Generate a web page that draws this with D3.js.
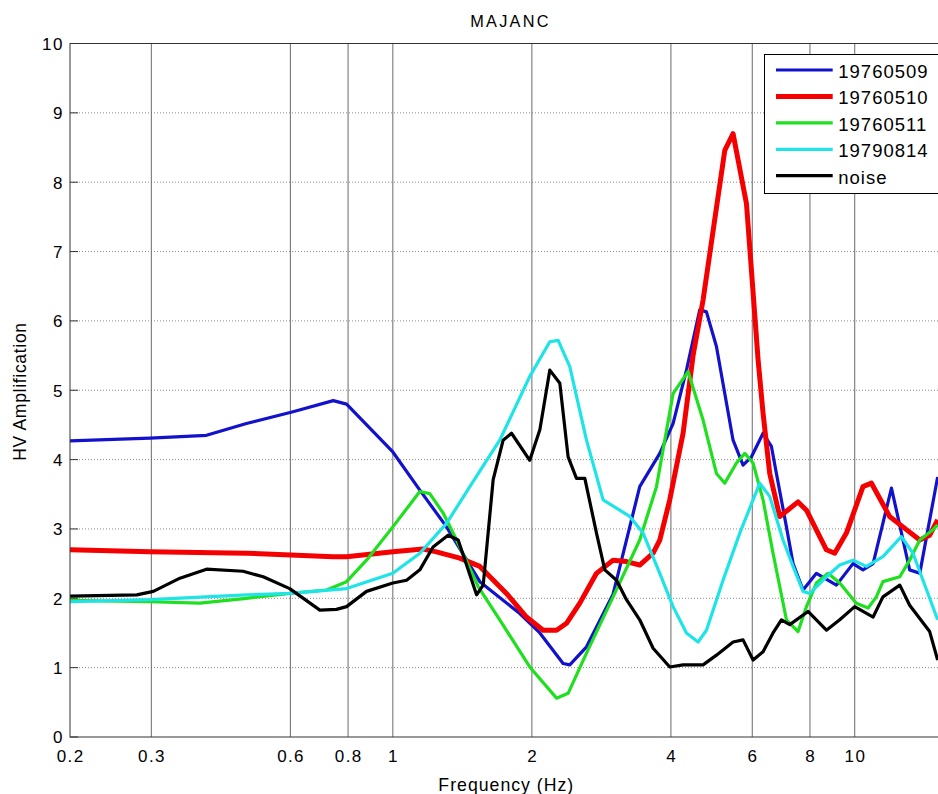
<!DOCTYPE html>
<html>
<head>
<meta charset="utf-8">
<script src="https://cdn.jsdelivr.net/npm/d3@7"></script>
<style>
  html, body { margin: 0; padding: 0; background: #fff; }
  svg { display: block; font-family: "Liberation Sans", Arial, Helvetica, sans-serif; }
</style>
</head>
<body>
<svg id="chart" width="938" height="794"></svg>
<script>
// ---- labels and ticks ----
const chartTitle = "MAJANC";
const xLabel = "Frequency (Hz)";
const yLabel = "HV Amplification";
const xTicks = [0.2, 0.3, 0.6, 0.8, 1, 2, 4, 6, 8, 10];
const xTickLabels = ["0.2", "0.3", "0.6", "0.8", "1", "2", "4", "6", "8", "10"];
const yTicks = [0, 1, 2, 3, 4, 5, 6, 7, 8, 9, 10];
const yTickLabels = ["0", "1", "2", "3", "4", "5", "6", "7", "8", "9", "10"];
const seriesNames = ["19760509", "19760510", "19760511", "19790814", "noise"];
const seriesColors = ["#1212cc", "#f40000", "#1ee01e", "#1ee4e8", "#000000"];
const seriesWidths = [3.2, 5, 3.2, 3.2, 3.2];

// ---- H/V spectral ratios (frequency in Hz, amplification) ----
const freq19760509 = [0.200, 0.298, 0.395, 0.482, 0.608, 0.743, 0.794, 1.000, 1.144, 1.307, 1.543, 1.883, 2.081, 2.337, 2.416, 2.626, 2.998, 3.424, 3.784, 4.043, 4.322, 4.618, 4.775, 5.019, 5.453, 5.731, 5.977, 6.332, 6.602, 6.768, 7.115, 7.354, 7.729, 8.262, 9.128, 9.915, 10.42, 10.96, 12.01, 13.15, 13.83, 15.12];
const amp19760509  = [4.27, 4.31, 4.35, 4.52, 4.69, 4.85, 4.80, 4.11, 3.56, 3.03, 2.24, 1.78, 1.50, 1.06, 1.04, 1.30, 2.06, 3.61, 4.09, 4.52, 5.29, 6.16, 6.13, 5.63, 4.28, 3.92, 4.04, 4.38, 4.19, 3.80, 3.03, 2.50, 2.12, 2.36, 2.19, 2.50, 2.41, 2.50, 3.59, 2.41, 2.36, 3.75];

const freq19760510 = [0.200, 0.298, 0.482, 0.743, 0.794, 1.000, 1.163, 1.243, 1.396, 1.543, 1.762, 1.947, 2.115, 2.262, 2.377, 2.540, 2.760, 2.998, 3.205, 3.424, 3.660, 3.784, 3.977, 4.250, 4.467, 4.695, 5.232, 5.453, 5.830, 6.177, 6.332, 6.546, 6.881, 7.539, 7.862, 8.684, 9.050, 9.594, 10.42, 10.87, 11.90, 12.94, 13.83, 14.53, 15.12];
const amp19760510  = [2.70, 2.67, 2.65, 2.60, 2.60, 2.67, 2.71, 2.67, 2.58, 2.46, 2.07, 1.73, 1.54, 1.54, 1.64, 1.93, 2.36, 2.55, 2.53, 2.48, 2.65, 2.84, 3.42, 4.38, 5.50, 6.30, 8.46, 8.70, 7.69, 5.44, 4.67, 3.80, 3.18, 3.39, 3.27, 2.70, 2.65, 2.94, 3.61, 3.66, 3.18, 2.99, 2.84, 2.91, 3.13];

const freq19760511 = [0.200, 0.298, 0.382, 0.482, 0.598, 0.719, 0.794, 0.877, 1.000, 1.144, 1.202, 1.285, 1.374, 1.530, 1.704, 1.979, 2.262, 2.396, 2.626, 2.998, 3.424, 3.722, 4.043, 4.357, 4.695, 5.019, 5.232, 5.546, 5.781, 6.025, 6.332, 6.655, 7.115, 7.539, 7.862, 8.262, 8.754, 9.280, 10.08, 10.69, 11.14, 11.51, 12.52, 13.15, 13.83, 14.77, 15.12];
const amp19760511  = [1.97, 1.95, 1.93, 2.00, 2.07, 2.12, 2.24, 2.55, 3.03, 3.54, 3.51, 3.23, 2.84, 2.17, 1.69, 1.01, 0.56, 0.63, 1.21, 2.02, 2.84, 3.61, 4.95, 5.27, 4.57, 3.80, 3.66, 3.95, 4.09, 3.95, 3.42, 2.65, 1.69, 1.52, 1.88, 2.22, 2.36, 2.22, 1.93, 1.86, 2.02, 2.24, 2.31, 2.55, 2.84, 2.99, 3.06];

const freq19790814 = [0.200, 0.298, 0.482, 0.598, 0.794, 1.000, 1.144, 1.307, 1.468, 1.704, 1.979, 2.187, 2.280, 2.416, 2.626, 2.853, 3.258, 3.482, 3.784, 4.043, 4.322, 4.580, 4.775, 5.187, 5.638, 6.229, 6.546, 6.995, 7.354, 7.729, 7.991, 8.684, 9.280, 9.915, 10.60, 11.51, 12.62, 13.37, 15.12];
const amp19790814  = [1.95, 1.98, 2.05, 2.07, 2.14, 2.36, 2.65, 3.08, 3.61, 4.28, 5.20, 5.70, 5.72, 5.34, 4.28, 3.42, 3.18, 2.94, 2.36, 1.88, 1.50, 1.37, 1.54, 2.26, 2.94, 3.66, 3.47, 2.84, 2.46, 2.10, 2.07, 2.31, 2.48, 2.55, 2.46, 2.60, 2.89, 2.65, 1.69];

const freqNoise = [0.200, 0.279, 0.303, 0.346, 0.395, 0.474, 0.524, 0.598, 0.695, 0.755, 0.794, 0.877, 1.000, 1.071, 1.144, 1.222, 1.317, 1.385, 1.518, 1.569, 1.649, 1.733, 1.807, 1.979, 2.081, 2.187, 2.299, 2.396, 2.498, 2.604, 2.760, 2.877, 3.050, 3.205, 3.424, 3.660, 3.977, 4.250, 4.695, 5.019, 5.453, 5.731, 6.025, 6.332, 6.655, 6.939, 7.233, 7.924, 8.684, 9.280, 10.00, 10.96, 11.51, 12.52, 13.15, 14.53, 15.12];
const ampNoise  = [2.03, 2.05, 2.10, 2.29, 2.42, 2.39, 2.31, 2.14, 1.83, 1.84, 1.88, 2.10, 2.22, 2.26, 2.41, 2.74, 2.91, 2.84, 2.05, 2.19, 3.71, 4.28, 4.38, 3.99, 4.43, 5.29, 5.10, 4.04, 3.73, 3.73, 2.94, 2.41, 2.26, 1.98, 1.69, 1.28, 1.01, 1.04, 1.04, 1.18, 1.37, 1.40, 1.11, 1.23, 1.50, 1.69, 1.62, 1.81, 1.54, 1.69, 1.88, 1.73, 2.02, 2.19, 1.90, 1.52, 1.11];

const seriesFreqs = [freq19760509, freq19760510, freq19760511, freq19790814, freqNoise];
const seriesAmps  = [amp19760509, amp19760510, amp19760511, amp19790814, ampNoise];

// ---- geometry ----
const W = 938, H = 794;
const plot = { left: 70, top: 43.5, right: 949, bottom: 737 };

const svg = d3.select("#chart");
svg.append("rect").attr("width", W).attr("height", H).attr("fill", "#fff");

const x = d3.scaleLog().domain([0.2, 16]).range([plot.left, plot.right]);
const y = d3.scaleLinear().domain([0, 10]).range([plot.bottom, plot.top]);

svg.append("defs").append("clipPath").attr("id", "plotClip")
  .append("rect")
  .attr("x", plot.left).attr("y", plot.top)
  .attr("width", plot.right - plot.left).attr("height", plot.bottom - plot.top);

// horizontal dotted grid
svg.append("g").selectAll("line")
  .data(yTicks.filter(v => v > 0 && v < 10))
  .join("line")
  .attr("x1", plot.left).attr("x2", plot.right)
  .attr("y1", d => y(d)).attr("y2", d => y(d))
  .attr("stroke", "#8a8a8a").attr("stroke-width", 1)
  .attr("stroke-dasharray", "1,2");

// vertical grid lines at the frequency ticks
svg.append("g").selectAll("line")
  .data(xTicks.slice(1))
  .join("line")
  .attr("x1", d => x(d)).attr("x2", d => x(d))
  .attr("y1", plot.top).attr("y2", plot.bottom)
  .attr("stroke", "#6a6a6a").attr("stroke-width", 1);

// y tick marks (inward)
svg.append("g").selectAll("line")
  .data(yTicks)
  .join("line")
  .attr("x1", plot.left).attr("x2", plot.left + 8)
  .attr("y1", d => y(d)).attr("y2", d => y(d))
  .attr("stroke", "#333").attr("stroke-width", 1);

// data curves
const line = d3.line()
  .x(d => x(d[0]))
  .y(d => y(d[1]));

const curves = svg.append("g").attr("clip-path", "url(#plotClip)");
seriesNames.forEach((name, i) => {
  const pts = seriesFreqs[i].map((f, k) => [f, seriesAmps[i][k]]);
  curves.append("path")
    .datum(pts)
    .attr("d", line)
    .attr("fill", "none")
    .attr("stroke", seriesColors[i])
    .attr("stroke-width", seriesWidths[i])
    .attr("stroke-linejoin", "round");
});

// axes box
svg.append("rect")
  .attr("x", plot.left).attr("y", plot.top)
  .attr("width", plot.right - plot.left).attr("height", plot.bottom - plot.top)
  .attr("fill", "none").attr("stroke", "#333").attr("stroke-width", 1);

// tick labels
svg.append("g").selectAll("text")
  .data(yTicks)
  .join("text")
  .attr("x", plot.left - 6)
  .attr("y", d => y(d) + 6.3)
  .attr("text-anchor", "end")
  .attr("font-size", 17)
  .attr("letter-spacing", 1.5)
  .attr("fill", "#000")
  .text((d, i) => yTickLabels[i]);

svg.append("g").selectAll("text")
  .data(xTicks)
  .join("text")
  .attr("x", d => x(d) + 0.7)
  .attr("y", plot.bottom + 24.7)
  .attr("text-anchor", "middle")
  .attr("font-size", 17)
  .attr("letter-spacing", 1.4)
  .attr("fill", "#000")
  .text((d, i) => xTickLabels[i]);

// title and axis labels
svg.append("text")
  .attr("x", 510.5).attr("y", 26.7)
  .attr("text-anchor", "middle")
  .attr("font-size", 16.3)
  .attr("letter-spacing", 2.3)
  .attr("fill", "#000")
  .text(chartTitle);

svg.append("text")
  .attr("x", 506.3).attr("y", 790.7)
  .attr("text-anchor", "middle")
  .attr("font-size", 17.7)
  .attr("letter-spacing", 1.0)
  .attr("fill", "#000")
  .text(xLabel);

svg.append("text")
  .attr("transform", "translate(25.5,391.5) rotate(-90)")
  .attr("text-anchor", "middle")
  .attr("font-size", 17.5)
  .attr("letter-spacing", 0.7)
  .attr("fill", "#000")
  .text(yLabel);

// legend
const legend = svg.append("g");
const lg = { left: 764.5, top: 54.5, bottom: 193.5, right: 946 };
legend.append("rect")
  .attr("x", lg.left).attr("y", lg.top)
  .attr("width", lg.right - lg.left).attr("height", lg.bottom - lg.top)
  .attr("fill", "#fff").attr("stroke", "#000").attr("stroke-width", 1);

const rowY = d3.scaleLinear().domain([0, 4]).range([70, 175.7]);
seriesNames.forEach((name, i) => {
  legend.append("line")
    .attr("x1", 776).attr("x2", 832.7)
    .attr("y1", rowY(i)).attr("y2", rowY(i))
    .attr("stroke", seriesColors[i])
    .attr("stroke-width", seriesWidths[i]);
  legend.append("text")
    .attr("x", 838.3).attr("y", rowY(i) + 8.0)
    .attr("font-size", 18.5)
    .attr("letter-spacing", 1.0)
    .attr("fill", "#000")
    .text(name);
});
</script>
</body>
</html>
